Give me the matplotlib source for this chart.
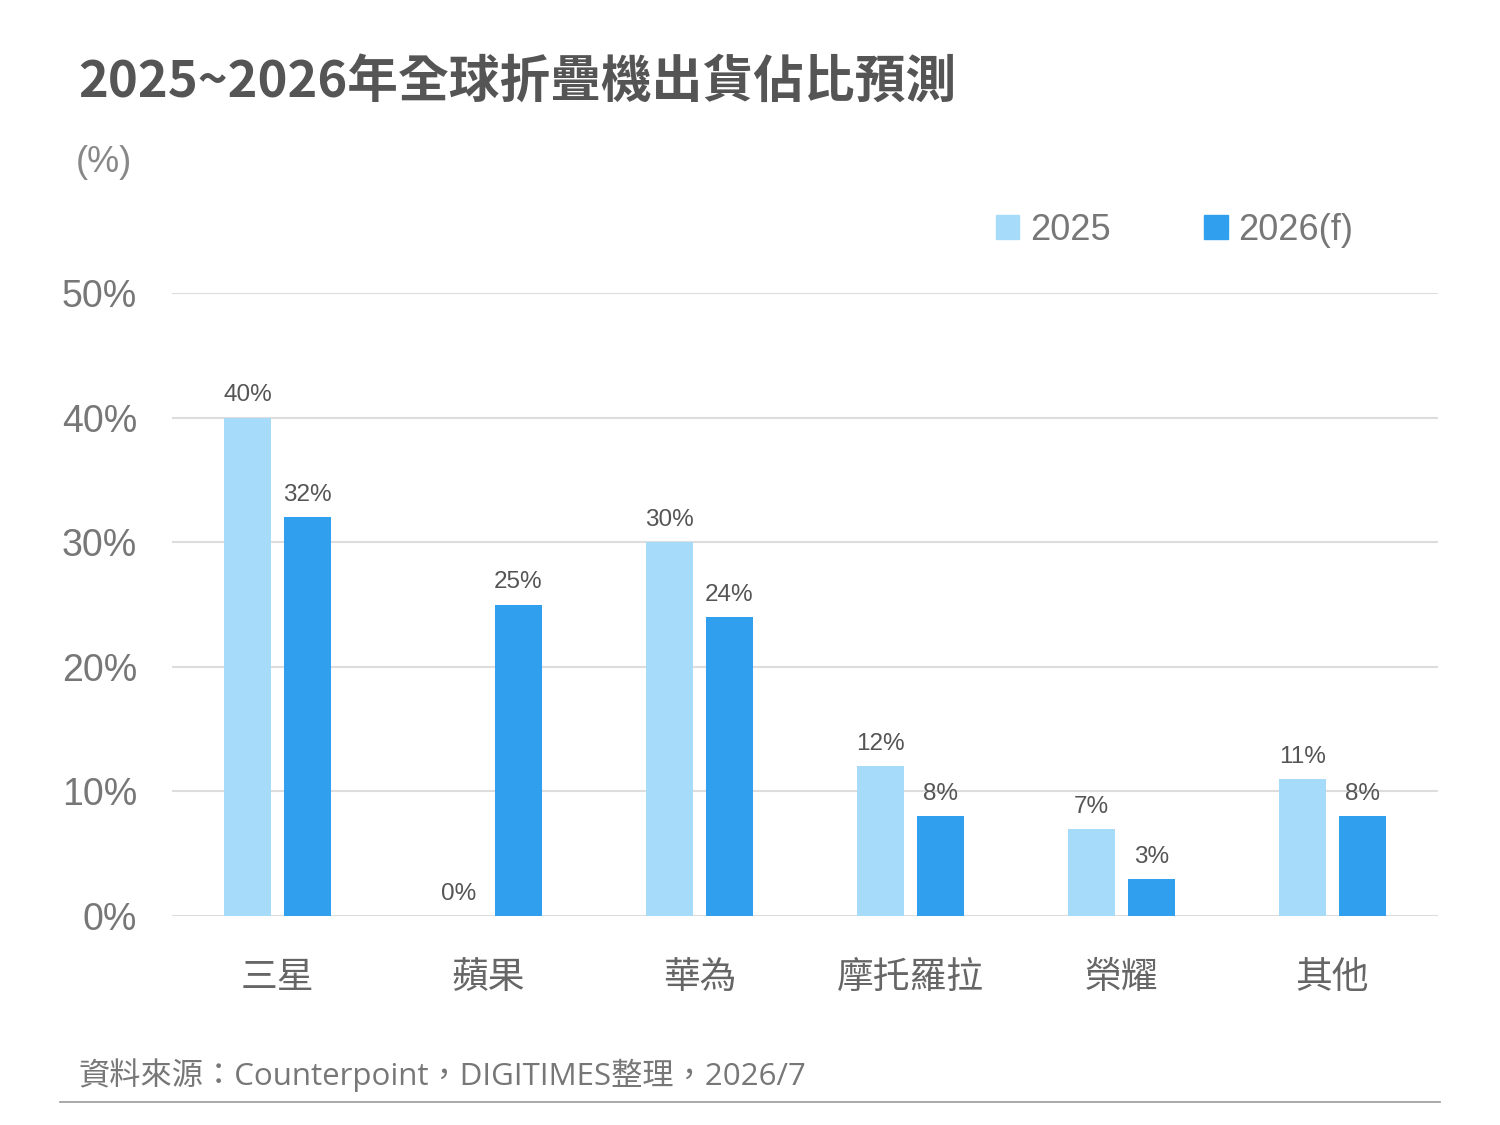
import numpy as np
import matplotlib.pyplot as plt
from matplotlib.patches import Patch

# 資料
categories = ["三星", "蘋果", "華為", "摩托羅拉", "榮耀", "其他"]
share_2025 = [40, 0, 30, 12, 7, 11]
share_2026 = [32, 25, 24, 8, 3, 8]
series_names = ["2025", "2026(f)"]
yticks = [0, 10, 20, 30, 40, 50]

c_light = "#A6DBFA"
c_dark = "#309FEE"
num_font = ["Liberation Sans", "Noto Sans CJK TC"]
cjk_font = ["Noto Sans CJK TC", "DejaVu Sans"]
src_font = ["Open Sans", "Noto Sans CJK TC"]

plt.rcParams["font.family"] = num_font

fig = plt.figure(figsize=(15, 11.25), dpi=100)
ax = fig.add_axes([172 / 1500, 1 - 916 / 1125, (1438 - 172) / 1500, (916 - 293) / 1125])

x = np.arange(len(categories))
w = 0.223
off = 0.142
b1 = ax.bar(x - off, share_2025, width=w, color=c_light, zorder=3)
b2 = ax.bar(x + off, share_2026, width=w, color=c_dark, zorder=3)

for bars, vals in [(b1, share_2025), (b2, share_2026)]:
    for b, v in zip(bars, vals):
        ax.annotate(f"{v}%", (b.get_x() + b.get_width() / 2, v), xytext=(0, 8),
                    textcoords="offset points", ha="center", va="bottom",
                    fontsize=17.5, color="#555555")

ax.set_xlim(-0.5, len(categories) - 0.5)
ax.set_ylim(0, 50)
ax.set_yticks(yticks)
ax.set_yticklabels([f"{t}%" for t in yticks], fontsize=27, color="#777777")
ax.set_xticks(x)
ax.set_xticklabels(categories, fontsize=26.5, color="#666666", family=cjk_font)
ax.tick_params(axis="both", length=0)
ax.tick_params(axis="y", pad=25)
ax.tick_params(axis="x", pad=30)
ax.grid(axis="y", color="#DDDDDD", linewidth=1.5, zorder=0)
for s in ax.spines.values():
    s.set_visible(False)

# 標題與註記
fig.text(78 / 1500, 1 - 82 / 1125, "2025~2026年全球折疊機出貨佔比預測", fontsize=36.5,
         fontweight="bold", color="#555555", family=cjk_font, va="center", ha="left")
fig.text(76 / 1500, 1 - 162 / 1125, "(%)", fontsize=26, color="#888888", va="center", ha="left")
fig.text(78 / 1500, 1 - 1075 / 1125, "資料來源：Counterpoint，DIGITIMES整理，2026/7",
         fontsize=22.5, color="#777777", family=src_font, va="center", ha="left")
fig.add_artist(plt.Line2D([60 / 1500, 1440 / 1500], [1 - 1102 / 1125] * 2,
                          color="#999999", linewidth=1.2))

handles = [Patch(color=c_light), Patch(color=c_dark)]
fig.legend(handles, series_names, loc="center left", ncol=2, frameon=False,
           bbox_to_anchor=(963 / 1500, 1 - 230 / 1125), fontsize=26,
           labelcolor="#777777", handlelength=0.65, handleheight=0.65,
           handletextpad=0.3, columnspacing=2.6)

fig.savefig("out.png", dpi=100, facecolor="white")
